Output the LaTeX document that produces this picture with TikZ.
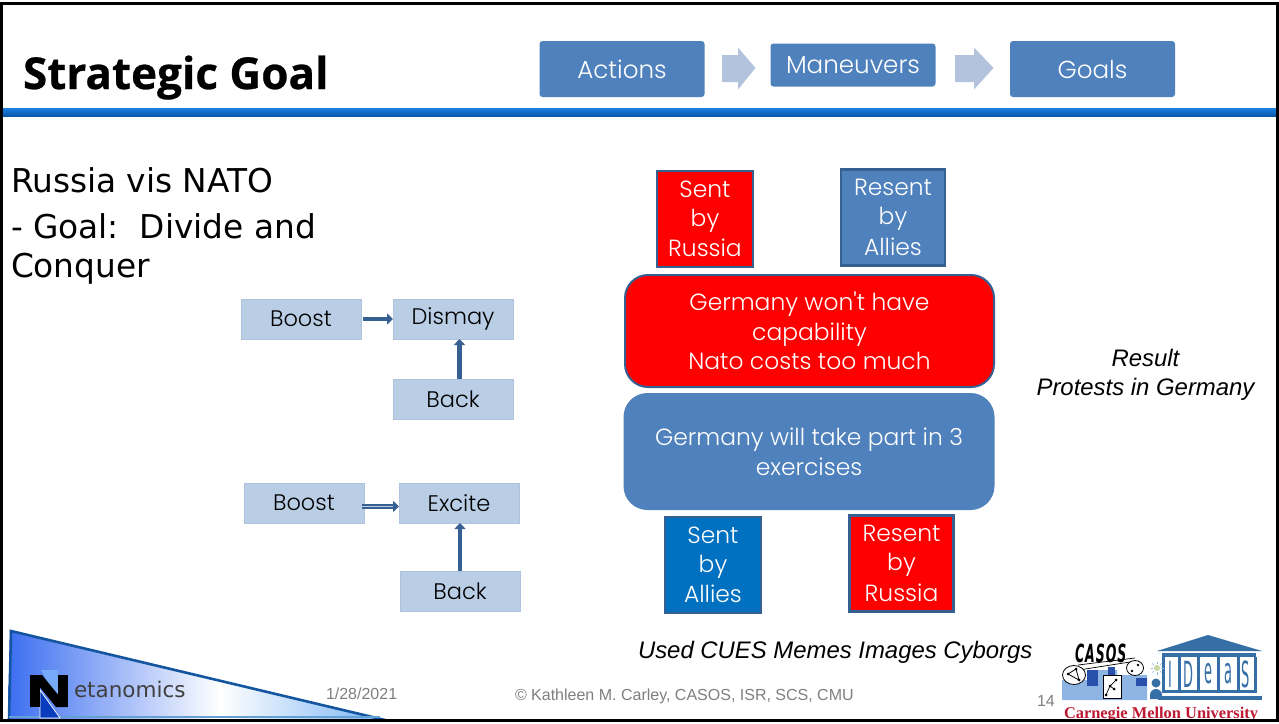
\documentclass[tikz,border=0pt]{standalone}
\usepackage{fontspec}
\setmainfont{Liberation Sans}
\newfontfamily\gothic{Poppins Light}
\newfontfamily\verd{DejaVu Sans}
\newfontfamily\tah{Open Sans}
\newfontfamily\cmu{Liberation Serif}
\usetikzlibrary{arrows.meta,calc,shapes.geometric}
\definecolor{bx}{HTML}{4F81BD}
\definecolor{lt}{HTML}{B9CDE5}
\definecolor{ltb}{HTML}{AEC3DE}
\definecolor{edgeblue}{HTML}{366092}
\definecolor{ar}{HTML}{B3C3DE}
\definecolor{foot}{HTML}{7F7F7F}
\definecolor{casb}{HTML}{8DB4E2}
\definecolor{casd}{HTML}{2850AA}
\definecolor{temple}{HTML}{366FA6}
\definecolor{bandt}{HTML}{1B80E2}
\definecolor{bandb}{HTML}{0A58AA}
\definecolor{sa}{HTML}{0070C0}
\definecolor{la}{HTML}{3C6EF0}
\definecolor{lc}{HTML}{78B4F5}
\definecolor{ld}{HTML}{14559F}
\definecolor{le}{HTML}{64A0D2}
\definecolor{lf}{HTML}{0A3CBE}
\definecolor{lg}{HTML}{78AAFA}
\definecolor{cmr}{HTML}{BE1932}
\definecolor{bulb}{HTML}{C8D8A0}
\newcommand{\fs}[1]{\fontsize{#1}{#1}\selectfont}
\tikzset{
 x=1pt,y=-1pt,
 base/.style={inner sep=0pt,outer sep=0pt,align=center},
 topbox/.style={base,fill=bx,rounded corners=3pt,text=white,font=\gothic\fs{24.6}},
 smallbox/.style={base,fill=lt,draw=ltb,line width=.5pt,minimum width=120pt,minimum height=40pt,font=\gothic\fs{22.5}},
 sq/.style={base,draw=edgeblue,line width=2.4pt,text=white,font=\gothic\fs{23.4}},
 big/.style={base,draw=edgeblue,line width=2pt,rounded corners=23pt,text=white,minimum width=369pt,font=\gothic\fs{23.4}},
 link/.style={edgeblue,line width=4.5pt,-{Triangle[length=6pt,width=11pt]}},
 hollow/.style={edgeblue,double=lt,double distance=1.6pt,line width=1.9pt,-{Triangle[length=6pt,width=11pt]}},
 it/.style={base,font=\itshape\fs{23.9}},
 ft/.style={base,text=foot,font=\fs{16}},
}
\begin{document}
\begin{tikzpicture}
\useasboundingbox (0,0) rectangle (1279,723);
\fill[white] (0,0) rectangle (1279,723);
% header band
\shade[top color=bandt,bottom color=bandb] (2,108) rectangle (1277,116);
\node[base,anchor=base west,font=\tah\bfseries\fs{44}] (title) at (23,89) {\addfontfeature{FakeBold=0.6}Strategic Goal};
\node[topbox,minimum width=165pt,minimum height=56pt] (act) at (622,69) {Actions};
\node[topbox,minimum width=165pt,minimum height=43pt] (man) at (853,65) {Maneuvers};
\node[topbox,minimum width=165pt,minimum height=56pt] (goal) at (1092.5,69) {Goals};
\fill[ar] (722,55) -- (738,55) -- (738,47.5) -- (755.5,68) -- (738,89.5) -- (738,82) -- (722,82) -- cycle;
\fill[ar] (955,55) -- (974,55) -- (974,47.5) -- (993.5,68) -- (974,89.5) -- (974,82) -- (955,82) -- cycle;
% left text
\node[base,anchor=base west,font=\verd\fs{32.8}] (t1) at (11,192) {Russia vis NATO};
\node[base,anchor=base west,font=\verd\fs{32.8}] (t2) at (11,238) {- Goal:\ \ Divide and};
\node[base,anchor=base west,font=\verd\fs{32.8}] (t3) at (11,277) {Conquer};
% left diagrams
\node[smallbox] (b1) at (301,319) {Boost};
\node[smallbox] (d1) at (453,319) {Dismay};
\node[smallbox] (k1) at (453,399) {Back};
\node[smallbox] (b2) at (304,503) {Boost};
\node[smallbox] (e2) at (459,503) {Excite};
\node[smallbox] (k2) at (460,591) {Back};
\draw[link] ($(b1.east)+(2,0)$) -- (d1.west);
\draw[link] ($(k1.north)+(6.5,0)$) -- ($(d1.south)+(6.5,0)$);
\draw[hollow] ($(b2.east)+(-2,3.5)$) -- ($(e2.west)+(0,3.5)$);
\draw[link] (k2.north) -- (k2.north |- e2.south);
% squares
\node[sq,fill=red,minimum width=96pt,minimum height=96pt] (s1) at (705,219) {Sent\\[5.6pt]by\\[5.6pt]Russia};
\node[sq,fill=bx,minimum width=104pt,minimum height=96pt] (s2) at (893,217.5) {Resent\\[5.6pt]by\\[5.6pt]Allies};
\node[big,fill=red,minimum height=112pt] (g1) at (809.5,331) {Germany won't have\\[5.6pt]capability\\[5.6pt]Nato costs too much};
\node[big,fill=bx,draw=bx,minimum height=115pt] (g2) at (809,451.5) {Germany will take part in 3\\[5.6pt]exercises};
\node[sq,fill=sa,minimum width=96pt,minimum height=96pt] (s3) at (713,565) {Sent\\[5.6pt]by\\[5.6pt]Allies};
\node[sq,fill=red,minimum width=104pt,minimum height=96pt] (s4) at (901.5,563.5) {Resent\\[5.6pt]by\\[5.6pt]Russia};
\node[it,align=center] (res) at (1145.5,374.5) {Result\\[5pt]Protests in Germany};
\node[it,anchor=base west] (cues) at (638,658) {Used CUES Memes Images Cyborgs};
% footer
\node[ft,anchor=base west] (date) at (326,699) {1/28/2021};
\node[ft,anchor=base west] (copy) at (515,700) {© Kathleen M. Carley, CASOS, ISR, SCS, CMU};
\node[ft,anchor=base west] (num) at (1037,706) {14};
% Netanomics logo
\begin{scope}
\clip (10,630) -- (385,720) -- (8,720) -- cycle;
\shade[left color=la,right color=white] (8,630) rectangle (220,720);
\shade[left color=white,right color=lc] (220,630) rectangle (385,720);
\end{scope}
\draw[ld,line width=2.6pt] (9,720) -- (11,631) -- (385,720);
\draw[le,line width=1.2pt] (9,717) -- (380,717);
\fill[lg] (41,670) -- (58,670) -- (58,700) -- cycle;
\draw[white,fill=lf,line width=.7pt] (40,690) -- (60,718) -- (40,718) -- cycle;
\fill[black] (30,675) rectangle (40,707);
\fill[black] (58,675) rectangle (68,707);
\fill[black] (30,675) -- (42,675) -- (68,707) -- (56,707) -- cycle;
\node[base,anchor=base west,text=black!75,font=\verd\fs{21.5}] (net) at (74,697) {etanomics};
% CASOS logo
\fill[casb] (1062,700) -- (1062,680) -- (1087,680) -- (1087,670) -- (1117,670) -- (1117,675) -- (1147,675) -- (1147,700) -- cycle;
\fill[casd] (1087,670) rectangle (1098,686);
\fill[casd] (1108,667) rectangle (1115,678);
\fill[casd] (1136,678) rectangle (1147,686);
\node[base,anchor=base west,font=\verd\bfseries\itshape\fs{25}] (cas) at (1075,662) {\addfontfeature{FakeStretch=.5,LetterSpace=4}CASOS};
\draw[black,line width=.7pt] (1079,670) -- (1130,662);
\draw[black,line width=.7pt] (1078,665) -- (1135,658);
\node[draw=black,line width=.8pt,fill=white,ellipse,inner sep=0pt,minimum width=23pt,minimum height=19pt] (c1) at (1074,675) {};
\node[draw=black,line width=.8pt,fill=white,ellipse,inner sep=0pt,minimum width=17pt,minimum height=15pt] (c2) at (1135,668) {};
\fill (1068,674) circle (1.5) (1076,669) circle (1.5) (1079,680) circle (1.5);
\draw[line width=.8pt] (1068,674) -- (1076,669) -- (1079,680) -- cycle;
\fill (1132,671) circle (1.3) (1138,665) circle (1.3);
\node[draw=black,line width=.8pt,fill=white,minimum width=18pt,minimum height=23pt,inner sep=0pt] (dice) at (1112,686.5) {};
\fill (1106,695) circle (1.5) (1110,686) circle (1.5) (1114,689) circle (1.5) (1116,680) circle (1.5);
\draw[line width=.7pt] (1106,695) -- (1110,686) -- (1116,680) (1110,686) -- (1114,689);
% IDeaS temple
\fill[temple] (1208,635) -- (1262,651) -- (1157,651) -- cycle;
\fill[temple] (1162,653) rectangle (1256,657);
\foreach \xx in {1162,1178,1197,1217,1237,1254} \fill[temple] (\xx,657) rectangle (\xx+2.5,690);
\fill[temple] (1162,690) rectangle (1256.5,693);
\fill[temple] (1158,695.5) rectangle (1262,700);
\foreach \n/\l/\xx in {i/I/1170,d/D/1188,e/e/1208,a/a/1228,s/S/1246}{
 \node[base,text=temple,font=\verd\fs{36}] (l\n) at (\xx,674) {\addfontfeature{FakeStretch=.36}\l};
}
\fill[temple] (1156,683) circle (4.5);
\fill[temple] (1150,699) -- (1150,695) to[out=90,in=180] (1156,689) to[out=0,in=90] (1162,695) -- (1162,699) -- cycle;
\fill[bulb] (1157,668) circle (3);
\foreach \aa in {0,45,...,315} \draw[casb,line width=.6pt] (1157,668) ++(\aa:4) -- ++(\aa:2.5);
\node[base,anchor=base,text=cmr,font=\cmu\bfseries\fs{16.4}] (cmu) at (1161,718) {Carnegie Mellon University};
% frame
\draw[black,line width=2.6pt] (1.3,3.7) rectangle (1277.7,720.5);
\end{tikzpicture}
\end{document}
